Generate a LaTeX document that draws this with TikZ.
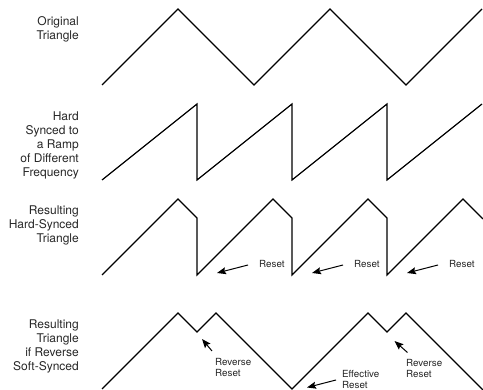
\documentclass[tikz,border=0pt]{standalone}
\usepackage{fontspec}
\setmainfont{TeX Gyre Heros}
\usetikzlibrary{arrows.meta}
\begin{document}
\begin{tikzpicture}[x=1pt,y=-1pt,
  wave/.style={line width=1.2pt,line join=miter},
  rowlabel/.style={anchor=north east,inner sep=0pt,align=right,text=black!85,
    font=\fontsize{12}{14.1}\selectfont},
  note/.style={anchor=north west,inner sep=0pt,align=left,text=black!85,
    font=\fontsize{9.8}{10.7}\selectfont},
  pointer/.style={line width=1pt,-{Stealth[length=9pt,width=7pt,inset=1.5pt]}}]
\useasboundingbox (0,0) rectangle (483,390);

% row labels
\node[rowlabel] (lblA) at (79,16.4) {Original\\Triangle};
\node[rowlabel] (lblB) at (79,111.4) {Hard\\Synced to\\a Ramp\\of Different\\Frequency};
\node[rowlabel] (lblC) at (79,205.7) {Resulting\\Hard-Synced\\Triangle};
\node[rowlabel] (lblD) at (79,319.7) {Resulting\\Triangle\\if Reverse\\Soft-Synced};

% original triangle
\draw[wave] (102,85) -- (178,9) -- (254,85) -- (330,9) -- (406,85) -- (482,9);

% ramp of different frequency
\draw[wave] (102,180) -- (197,104) -- (197,180) -- (292,104) -- (292,180)
  -- (387,104) -- (387,180) -- (482,104);

% hard-synced triangle
\draw[wave] (102,275) -- (178,199) -- (197,218) -- (197,275) -- (273,199)
  -- (292,218) -- (292,275) -- (368,199) -- (387,218) -- (387,275)
  -- (463,199) -- (483,219);

% reverse soft-synced triangle
\draw[wave] (102,389) -- (178,313) -- (197,332) -- (216,313) -- (292,389)
  -- (368,313) -- (387,332) -- (406,313) -- (483,390);

% reset notes
\node[note] (rs1) at (259,260) {Reset};
\node[note] (rs2) at (354,260) {Reset};
\node[note] (rs3) at (449,260) {Reset};
\coordinate (rs1t) at (248,265); \coordinate (rs1h) at (217,273);
\coordinate (rs2t) at (343,265); \coordinate (rs2h) at (312,273);
\coordinate (rs3t) at (438,265); \coordinate (rs3h) at (407,273);
\draw[pointer] (rs1t) -- (rs1h);
\draw[pointer] (rs2t) -- (rs2h);
\draw[pointer] (rs3t) -- (rs3h);

\node[note] (rv1) at (215,358.6) {Reverse\\Reset};
\node[note] (eff) at (342,370.2) {Effective\\Reset};
\node[note] (rv2) at (406,359.4) {Reverse\\Reset};
\coordinate (rv1t) at (212,351); \coordinate (rv1h) at (202,339);
\coordinate (efft) at (336,380); \coordinate (effh) at (307,387.5);
\coordinate (rv2t) at (407.5,352.5); \coordinate (rv2h) at (394.5,341);
\draw[pointer] (rv1t) -- (rv1h);
\draw[pointer] (efft) -- (effh);
\draw[pointer] (rv2t) -- (rv2h);
\end{tikzpicture}
\end{document}
